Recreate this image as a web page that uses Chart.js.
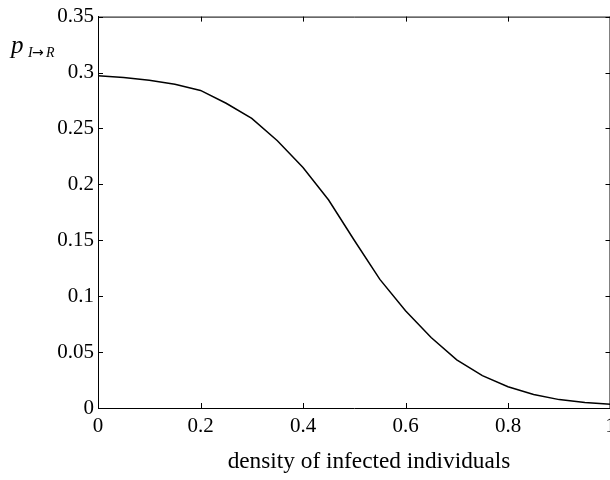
<!DOCTYPE html>
<html>
<head>
<meta charset="utf-8">
<script src="https://cdn.jsdelivr.net/npm/chart.js@4/dist/chart.umd.min.js"></script>
<style>
  html, body { margin: 0; padding: 0; background: #fff; overflow: hidden; }
  #wrap { width: 640px; height: 480px; }
</style>
</head>
<body>
<div id="wrap"><canvas id="c" width="640" height="480"></canvas></div>
<script>
// 감염 밀도에 따른 p(I→R) 곡선 — 그림에서 읽은 값
const density = [0, 0.05, 0.1, 0.15, 0.2, 0.25, 0.3, 0.35, 0.4, 0.45, 0.5,
                 0.55, 0.6, 0.65, 0.7, 0.75, 0.8, 0.85, 0.9, 0.95, 1.0];
const pIR = [0.297, 0.2955, 0.293, 0.2895, 0.284, 0.2725, 0.259, 0.239, 0.215, 0.186, 0.150,
             0.115, 0.087, 0.063, 0.043, 0.029, 0.019, 0.012, 0.0075, 0.005, 0.0033];
const xTicks = [0, 0.2, 0.4, 0.6, 0.8, 1];
const yTicks = [0, 0.05, 0.1, 0.15, 0.2, 0.25, 0.3, 0.35];

const SERIF = "'Liberation Serif', 'Times New Roman', serif";
const fmt = (v) => String(Number(v.toFixed(2)));

// 박스(위/오른쪽) + 안쪽 눈금 + 축 제목
const frame = {
  id: "frame",
  afterDraw(chart) {
    const { ctx, chartArea: a, scales: { x, y } } = chart;
    const L = 5;
    ctx.save();
    ctx.strokeStyle = "#000";
    ctx.lineWidth = 1;
    ctx.beginPath();
    ctx.moveTo(a.left, a.top + 0.5); ctx.lineTo(a.right, a.top + 0.5);
    ctx.moveTo(a.right - 0.5, a.top); ctx.lineTo(a.right - 0.5, a.bottom);
    for (const v of xTicks) {
      const px = Math.round(x.getPixelForValue(v)) + 0.5;
      ctx.moveTo(px, a.bottom); ctx.lineTo(px, a.bottom - L);
      ctx.moveTo(px, a.top); ctx.lineTo(px, a.top + L);
    }
    for (const v of yTicks) {
      const py = Math.round(y.getPixelForValue(v)) + 0.5;
      ctx.moveTo(a.left, py); ctx.lineTo(a.left + L, py);
      ctx.moveTo(a.right, py); ctx.lineTo(a.right - L, py);
    }
    ctx.stroke();

    ctx.fillStyle = "#000";
    ctx.textBaseline = "alphabetic";
    ctx.textAlign = "left";
    ctx.font = "italic 25px " + SERIF;
    ctx.fillText("p", 11, 53);
    ctx.font = "italic 14px " + SERIF;
    ctx.fillText("I", 28, 57);
    ctx.font = "14px 'DejaVu Sans', sans-serif";
    ctx.fillText("\u2192", 32, 57);
    ctx.font = "italic 14px " + SERIF;
    ctx.fillText("R", 46, 57);

    ctx.textAlign = "center";
    ctx.font = "23.3px " + SERIF;
    ctx.fillText("density of infected individuals", 369, 468);
    ctx.restore();
  },
};

new Chart(document.getElementById("c"), {
  type: "scatter",
  data: {
    datasets: [{
      data: density.map((d, i) => ({ x: d, y: pIR[i] })),
      showLine: true, borderColor: "#000", borderWidth: 1.5,
      pointRadius: 0, tension: 0,
    }],
  },
  options: {
    responsive: false, animation: false,
    layout: { padding: { left: 0, top: 12, right: 29.5, bottom: 0 } },
    plugins: { legend: { display: false }, tooltip: { enabled: false } },
    scales: {
      x: {
        type: "linear", min: 0, max: 1,
        afterFit: (s) => { s.height = 72; },
        afterBuildTicks: (s) => { s.ticks = xTicks.map((v) => ({ value: v })); },
        grid: { display: false, drawTicks: false },
        border: { display: true, color: "#000", width: 1 },
        ticks: { color: "#000", padding: 6, maxRotation: 0, font: { family: SERIF, size: 21 }, callback: fmt },
      },
      y: {
        type: "linear", min: 0, max: 0.35,
        afterFit: (s) => { s.width = 98; },
        afterBuildTicks: (s) => { s.ticks = yTicks.map((v) => ({ value: v })); },
        grid: { display: false, drawTicks: false },
        border: { display: true, color: "#000", width: 1 },
        ticks: { color: "#000", padding: 4, font: { family: SERIF, size: 21 }, callback: fmt },
      },
    },
  },
  plugins: [frame],
});
</script>
</body>
</html>
